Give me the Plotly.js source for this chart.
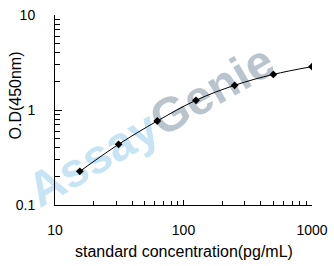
<!DOCTYPE html>
<html><head><meta charset="utf-8">
<script src="https://cdn.plot.ly/plotly-3.0.1.min.js"></script>
<style>html,body{margin:0;padding:0;background:#fff}#c{width:334px;height:266px}</style>
</head><body><div id="c"></div>
<script>
const concentration = [15.6, 31.25, 62.5, 125, 250, 500, 1000];
const od = [0.226, 0.435, 0.766, 1.265, 1.82, 2.37, 2.86];
const xTickVals = [10, 100, 1000];
const xTickText = ['10', '100', '1000'];
const yTickVals = [0.1, 1, 10];
const yTickText = ['0.1', '1', '10'];
const xMinor = [20,30,40,50,60,70,80,90,200,300,400,500,600,700,800,900];
const yMinor = [0.2,0.3,0.4,0.5,0.6,0.7,0.8,0.9,2,3,4,5,6,7,8,9];
const xTitle = 'standard concentration(pg/mL)';
const yTitle = 'O.D(450nm)';

const font = 'Liberation Sans, Arial, sans-serif';
Plotly.newPlot('c', [{
  x: concentration, y: od, type: 'scatter', mode: 'lines+markers',
  line: {color: '#000', width: 1, shape: 'spline'},
  marker: {color: '#000', symbol: 'diamond', size: 6},
  hoverinfo: 'none'
}], {
  width: 334, height: 266,
  margin: {l: 55, r: 22, t: 15, b: 61},
  paper_bgcolor: '#fff', plot_bgcolor: 'rgba(0,0,0,0)',
  showlegend: false,
  font: {family: font, size: 14, color: '#000'},
  xaxis: {
    type: 'log', range: [1, 3], tickmode: 'array', tickvals: xTickVals, ticktext: xTickText,
    ticks: 'inside', ticklen: 5, tickcolor: '#000', tickwidth: 1,
    showline: true, linecolor: '#000', linewidth: 1, mirror: false,
    showgrid: false, zeroline: false, ticklabelstandoff: 12,
    minor: {tickmode: 'array', tickvals: xMinor, ticks: 'inside', ticklen: 4, tickcolor: '#000', showgrid: false}
  },
  yaxis: {
    type: 'log', range: [-1, 1], tickmode: 'array', tickvals: yTickVals, ticktext: yTickText,
    ticks: 'inside', ticklen: 7, tickcolor: '#000', tickwidth: 1,
    showline: true, linecolor: '#000', linewidth: 1, mirror: false,
    showgrid: false, zeroline: false, ticklabelstandoff: 16,
    minor: {tickmode: 'array', tickvals: yMinor, ticks: 'inside', ticklen: 5, tickcolor: '#000', showgrid: false}
  },
  annotations: [
    {text: '<b><span style="color:#c6e4f4">Assay</span><span style="color:#b9c4cc">Genie</span></b>',
     xref: 'paper', yref: 'paper', x: 0.37, y: 0.42, xanchor: 'center', yanchor: 'middle',
     textangle: -30, showarrow: false, font: {size: 48, family: font}},
    {text: yTitle, xref: 'paper', yref: 'paper', x: 0, y: 0.5, xshift: -40.5, yshift: 14,
     xanchor: 'center', yanchor: 'middle',
     textangle: -90, showarrow: false, font: {size: 16, color: '#000'}},
    {text: xTitle, xref: 'paper', yref: 'paper', x: 0.5, y: 0, yshift: -46,
     xanchor: 'center', yanchor: 'middle',
     showarrow: false, font: {size: 16, color: '#000'}}
  ]
}, {staticPlot: true}).then(function (gd) {
  // place the watermark beneath the plotted data
  const svg = gd.querySelector('svg.main-svg');
  const wm = gd.querySelector('.annotation[data-index="0"]');
  const cart = svg.querySelector('.cartesianlayer');
  if (wm && cart) cart.parentNode.insertBefore(wm, cart);
});
</script></body></html>
